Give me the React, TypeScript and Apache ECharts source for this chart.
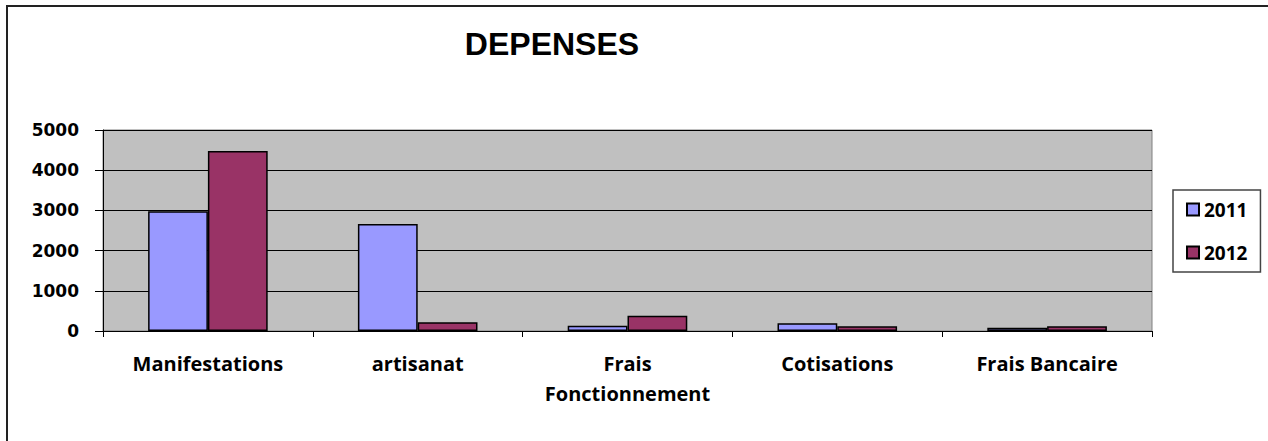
import React, { useEffect, useRef } from "react";
import * as echarts from "echarts";

const categories = ["Manifestations", "artisanat", "Frais\nFonctionnement", "Cotisations", "Frais Bancaire"];
const values2011 = [2980, 2660, 130, 190, 80];
const values2012 = [4480, 220, 380, 120, 120];
const seriesNames = ["2011", "2012"];
const yTicks = { min: 0, max: 5000, interval: 1000 };

export default function App() {
  const ref = useRef<HTMLDivElement>(null);
  useEffect(() => {
    const chart = echarts.init(ref.current!, null, { renderer: "svg" });
    chart.setOption({
      animation: false,
      backgroundColor: "#ffffff",
      title: {
        text: "DEPENSES",
        left: 547,
        top: 23,
        textAlign: "center",
        textStyle: { fontFamily: "Liberation Sans", fontWeight: "bold", fontSize: 32, color: "#000" },
      },
      graphic: [
        {
          type: "rect",
          shape: { x: 7, y: 6, width: 1400, height: 600 },
          style: { fill: "none", stroke: "#222", lineWidth: 2 },
          silent: true,
        },
      ],
      legend: {
        orient: "vertical",
        left: 1173,
        top: 190,
        padding: [10, 13, 10, 13],
        borderColor: "#444",
        borderWidth: 1.5,
        itemWidth: 12,
        itemHeight: 12,
        itemGap: 24,
        icon: "rect",
        data: seriesNames,
        textStyle: { fontFamily: "Open Sans", fontWeight: "bold", fontSize: 19, color: "#000" },
      },
      grid: {
        left: 103,
        right: 116,
        top: 130,
        bottom: 110,
        show: true,
        backgroundColor: "#C0C0C0",
        borderColor: "#808080",
        borderWidth: 1,
      },
      xAxis: {
        type: "category",
        data: categories,
        axisLine: { lineStyle: { color: "#000", width: 1 } },
        axisTick: { show: true, length: 6, lineStyle: { color: "#000" } },
        axisLabel: {
          fontFamily: "Open Sans",
          fontWeight: "bold",
          fontSize: 20,
          color: "#000",
          margin: 17,
          lineHeight: 30,
          interval: 0,
        },
      },
      yAxis: {
        type: "value",
        min: yTicks.min,
        max: yTicks.max,
        interval: yTicks.interval,
        axisLine: { show: true, lineStyle: { color: "#000", width: 1 } },
        axisTick: { show: true, length: 8, lineStyle: { color: "#000" } },
        splitLine: { show: true, lineStyle: { color: "#000", width: 1 } },
        axisLabel: {
          fontFamily: "DejaVu Sans",
          fontWeight: "bold",
          fontSize: 17,
          color: "#000",
          margin: 24,
          formatter: (v: number) => String(v),
        },
      },
      series: [
        {
          name: seriesNames[0],
          type: "bar",
          data: values2011,
          barGap: "0%",
          barCategoryGap: "43%",
          itemStyle: { color: "#9999FF", borderColor: "#000", borderWidth: 1.5 },
        },
        {
          name: seriesNames[1],
          type: "bar",
          data: values2012,
          barGap: "0%",
          barCategoryGap: "43%",
          itemStyle: { color: "#993366", borderColor: "#000", borderWidth: 1.5 },
        },
      ],
    });
    return () => chart.dispose();
  }, []);
  return <div ref={ref} style={{ position: "fixed", left: 0, top: 0, width: 1268, height: 441 }} />;
}
